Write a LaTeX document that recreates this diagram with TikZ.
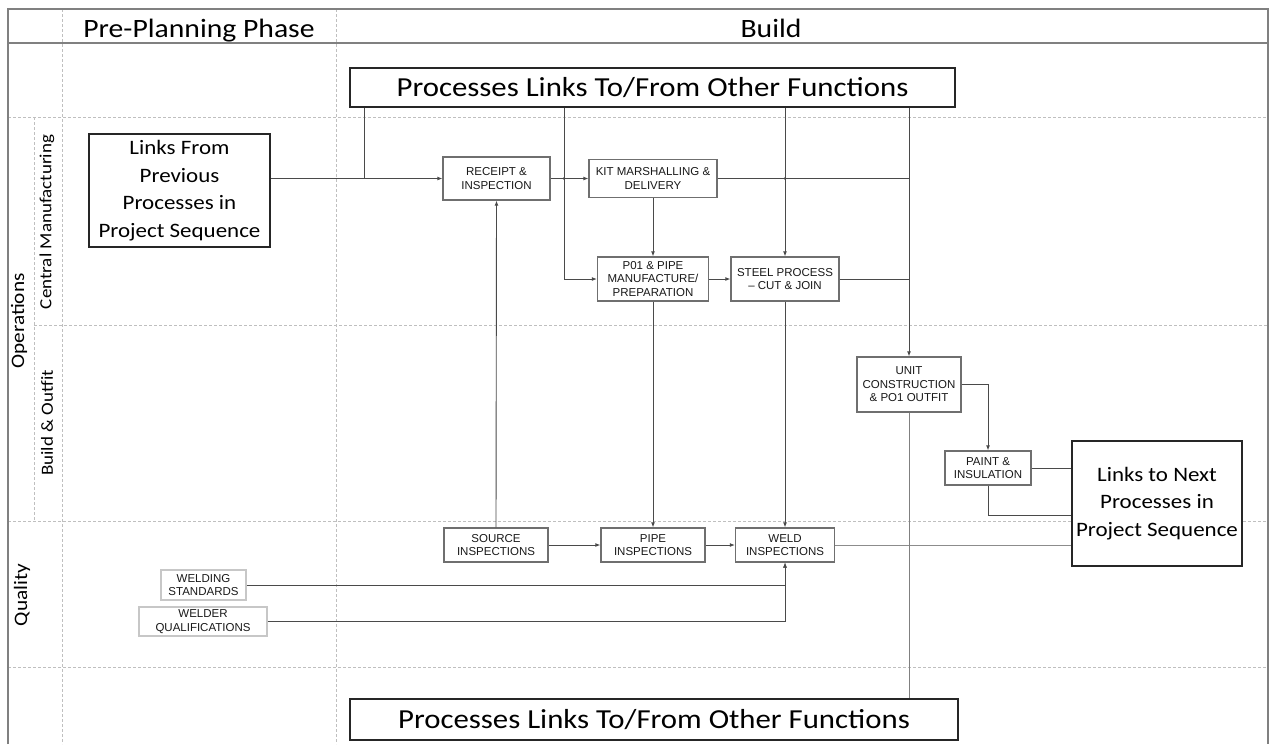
\documentclass[tikz,border=0pt]{standalone}
\usepackage{fontspec}
\setmainfont{Carlito}[FakeStretch=1.12]
\newfontfamily\procfont{Liberation Sans}
\usetikzlibrary{arrows.meta,positioning,calc}
\definecolor{laneGray}{HTML}{BFBFBF}
\definecolor{frameGray}{HTML}{808080}
\definecolor{boxGray}{HTML}{6F6F6F}
\definecolor{lineGray}{HTML}{4A4A4A}
\tikzset{
  lane/.style={draw=laneGray, dash pattern=on 3pt off 2pt, line width=0.8pt},
  frame/.style={draw=frameGray, line width=1.2pt},
  proc/.style={draw=boxGray, line width=1.3pt, fill=white, align=center, inner sep=1pt,
    font=\procfont\fontsize{11.5}{13.5}\selectfont, text=black!90},
  stdbox/.style={proc, draw=black!22},
  bigbox/.style={draw=black!85, line width=1.2pt, fill=white, align=center, inner sep=2pt},
  line/.style={draw=lineGray, line width=0.9pt},
  arr/.style={line, -{Latex[length=5pt,width=4pt]}},
  jdot/.style={circle, fill=lineGray, inner sep=0pt, minimum size=2.6pt}
}

\begin{document}
\begin{tikzpicture}[x=1pt, y=-1pt,
  head/.style={anchor=base, font=\fontsize{26.5}{30}\selectfont},
  lanelabel/.style={rotate=90, font=\fontsize{19}{22}\selectfont},
  sublabel/.style={rotate=90, font=\fontsize{17}{20}\selectfont},
  linktext/.style={font=\fontsize{20.5}{27.5}\selectfont},
  fntext/.style={font=\fontsize{27.5}{31}\selectfont}]
\useasboundingbox (0,0) rectangle (1271,744);

\draw[lane] (62,9) -- (62,744);
\draw[lane] (336,9) -- (336,744);
\draw[lane] (34,117) -- (34,521);
\foreach \y in {117,521,667} \draw[lane] (8,\y) -- (1268,\y);
\draw[lane] (34,325) -- (1268,325);
\draw[frame] (8,744) -- (8,9) -- (1268,9) -- (1268,744);
\draw[frame] (8,43) -- (1268,43);

\node[head] (pre) at (199,37) {Pre-Planning Phase};
\node[head] (build) at (771,37) {Build};
\node[lanelabel] (ops) at (19,321) {Operations};
\node[sublabel] (cman) at (47,222) {Central Manufacturing};
\node[sublabel] (bout) at (47,423) {Build \& Outfit};
\node[lanelabel] (qual) at (22,595) {Quality};

\node[bigbox, fntext, minimum width=605pt, minimum height=39pt] (topfn) at (652.5,87.5) {Processes Links To/From Other Functions};
\node[bigbox, fntext, minimum width=608pt, minimum height=41pt] (botfn) at (654,719.5) {Processes Links To/From Other Functions};
\node[bigbox, linktext, minimum width=181pt, minimum height=113pt] (linksfrom) at (179.5,190.5) {Links From\\Previous\\Processes in\\Project Sequence};
\node[bigbox, linktext, minimum width=170pt, minimum height=125pt] (linksnext) at (1157,503.5) {Links to Next\\Processes in\\Project Sequence};

\node[proc, minimum width=107pt, minimum height=43pt] (receipt) at (496.5,178.5) {RECEIPT \&\\INSPECTION};
\node[proc, minimum width=128pt, minimum height=38pt] (kit) at (653,178.5) {KIT MARSHALLING \&\\DELIVERY};
\node[proc, minimum width=111pt, minimum height=44pt] (pipeman) at (653,279) {P01 \& PIPE\\MANUFACTURE/\\PREPARATION};
\node[proc, minimum width=108pt, minimum height=44pt] (steel) at (785,279) {STEEL PROCESS\\– CUT \& JOIN};
\node[proc, minimum width=104pt, minimum height=55pt] (unit) at (909,384.5) {UNIT\\CONSTRUCTION\\\& PO1 OUTFIT};
\node[proc, minimum width=86pt, minimum height=34pt] (paint) at (988,468) {PAINT \&\\INSULATION};
\node[proc, minimum width=104pt, minimum height=34pt] (srcinsp) at (496,545) {SOURCE\\INSPECTIONS};
\node[proc, minimum width=104pt, minimum height=34pt] (pipeinsp) at (653,545) {PIPE\\INSPECTIONS};
\node[proc, minimum width=99pt, minimum height=34pt] (weldinsp) at (785,545) {WELD\\INSPECTIONS};
\node[stdbox, minimum width=85pt, minimum height=30pt] (weldstd) at (203.5,585) {WELDING\\STANDARDS};
\node[stdbox, minimum width=128pt, minimum height=29pt] (welderq) at (203,621.5) {WELDER\\QUALIFICATIONS};

\coordinate (jfrom) at (364,178.5);
\coordinate (jpipe) at (564,178.5);
\node[jdot] (xa) at (jpipe) {};
\node[jdot] (xb) at (receipt.east -| steel.north) {};

\draw[arr] (linksfrom.east |- receipt.west) -- (receipt.west);
\draw[line] (topfn.south -| jfrom) -- (jfrom);
\draw[arr] (topfn.south -| jpipe) |- (pipeman.west);
\draw[arr] (topfn.south -| steel.north) -- (steel.north);
\draw[arr] (topfn.south -| unit.north) -- (unit.north);
\draw[arr] (receipt.east) -- (kit.west);
\draw[line] (kit.east) -- (kit.east -| unit.north);
\draw[arr] (kit.south) -- (pipeman.north);
\draw[arr] (pipeman.east) -- (steel.west);
\draw[line] (steel.east) -- (steel.east -| unit.north);
\draw[arr] (srcinsp.north) -- (receipt.south);
\draw[arr] (pipeman.south) -- (pipeinsp.north);
\draw[arr] (steel.south) -- (weldinsp.north);
\draw[arr] (srcinsp.east) -- (pipeinsp.west);
\draw[arr] (pipeinsp.east) -- (weldinsp.west);
\draw[line, draw=black!45] (weldinsp.east) -- (weldinsp.east -| linksnext.west);
\draw[line, draw=black!50] (unit.south) -- (unit.south |- botfn.north);
\draw[arr] (unit.east) -| (paint.north);
\draw[line] (paint.east) -- (paint.east -| linksnext.west);
\draw[line] (paint.south) |- ([yshift=-11.5pt]linksnext.west);
\draw[arr] (weldstd.east) -| (weldinsp.south);
\draw[arr] (welderq.east) -| (weldinsp.south);
\end{tikzpicture}
\end{document}
